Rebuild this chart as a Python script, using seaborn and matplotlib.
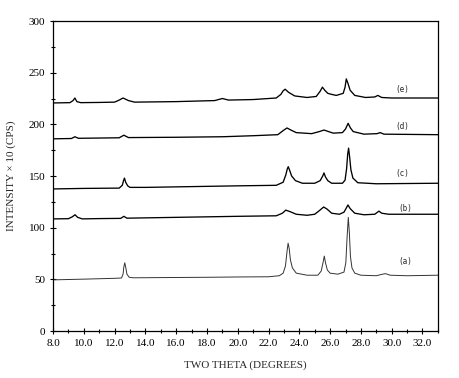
#!/usr/bin/env python3

# XRD patterns (a)-(e).

import matplotlib
matplotlib.use("Agg")
import matplotlib.pylab as plt
from matplotlib.ticker import MultipleLocator, FormatStrFormatter
import pandas
import seaborn as sns

sns.set_style("ticks")
plt.rcParams["font.family"] = ["Liberation Serif", "DejaVu Serif"]

# two theta / intensity points for each pattern
a_theta = [8.0, 10.0, 12.0, 12.45, 12.55, 12.6, 12.66, 12.72, 12.8, 12.95,
           13.2, 15.0, 18.0, 20.0, 22.0, 22.7, 22.95, 23.1, 23.2, 23.27, 23.34,
           23.42, 23.55, 23.8, 24.5, 25.2, 25.42, 25.55, 25.62, 25.7, 25.82,
           26.0, 26.5, 26.9, 27.02, 27.1, 27.18, 27.25, 27.32, 27.42, 27.6,
           28.0, 29.0, 29.4, 29.6, 29.9, 31.0, 33.0]
a_int = [49.5, 50.2, 51.0, 51.3, 55.0, 62.0, 66.0, 62.0, 55.0, 52.0,
         51.5, 51.7, 52.0, 52.3, 52.5, 53.5, 56.0, 63.0, 77.0, 85.0, 80.0,
         69.0, 61.0, 56.0, 54.0, 54.0, 58.0, 67.0, 72.5, 66.0, 59.0,
         56.0, 55.0, 57.0, 66.0, 90.0, 110.0, 95.0, 72.0, 61.0, 56.0,
         54.0, 53.5, 55.0, 55.5, 54.0, 53.5, 54.0]

b_theta = [8.0, 9.0, 9.25, 9.43, 9.6, 9.9, 11.0, 12.4, 12.6, 12.8, 14.0, 18.0,
           20.0, 22.5, 22.9, 23.12, 23.4, 23.8, 24.5, 25.0, 25.3, 25.58, 25.8,
           26.1, 26.6, 26.9, 27.05, 27.16, 27.3, 27.6, 28.2, 28.9, 29.17,
           29.35, 29.8, 33.0]
b_int = [108.5, 108.7, 110.5, 112.5, 110.0, 108.5, 108.8, 109.0, 111.0, 109.2,
         109.5, 110.5, 111.0, 111.5, 114.0, 117.0, 115.5, 113.0, 112.0, 113.0,
         116.5, 120.0, 118.0, 114.0, 113.0, 115.0, 119.0, 122.0, 118.5, 114.0,
         112.5, 113.0, 116.0, 114.0, 113.0, 113.0]

c_theta = [8.0, 10.0, 12.3, 12.5, 12.58, 12.64, 12.72, 12.85, 13.0, 14.0, 18.0,
           20.0, 22.5, 22.95, 23.12, 23.22, 23.28, 23.36, 23.5, 23.75, 24.2,
           25.0, 25.35, 25.52, 25.6, 25.7, 25.85, 26.1, 26.8, 26.97, 27.07,
           27.14, 27.2, 27.27, 27.35, 27.48, 27.8, 29.0, 33.0]
c_int = [137.5, 138.0, 138.3, 141.0, 145.5, 148.0, 144.0, 140.5, 139.0, 139.0,
         140.0, 140.5, 141.0, 144.0, 151.0, 157.0, 159.0, 156.0, 150.0, 145.5,
         143.0, 143.0, 145.5, 150.0, 153.0, 149.0, 145.5, 143.0, 143.0, 146.0,
         157.0, 171.0, 177.0, 168.0, 156.0, 148.0, 143.5, 142.5, 143.0]

d_theta = [8.0, 9.2, 9.42, 9.65, 12.3, 12.6, 12.9, 16.0, 19.0, 21.0, 22.6,
           23.0, 23.2, 23.45, 23.8, 24.8, 25.3, 25.6, 25.9, 26.2, 26.8, 27.0,
           27.17, 27.32, 27.5, 28.2, 29.05, 29.25, 29.5, 33.0]
d_int = [186.0, 186.3, 188.0, 186.5, 187.0, 189.5, 187.2, 187.5, 188.0, 189.0,
         190.0, 194.5, 196.5, 194.5, 192.0, 191.0, 193.0, 194.5, 193.0, 191.5,
         192.0, 195.5, 201.0, 196.5, 193.0, 190.5, 191.0, 192.0, 190.5, 190.0]

e_theta = [8.0, 9.1, 9.3, 9.42, 9.55, 9.8, 11.0, 12.0, 12.3, 12.55, 12.9,
           13.3, 16.0, 18.5, 19.0, 19.4, 21.0, 22.5, 22.8, 22.95, 23.08, 23.3,
           23.7, 24.5, 25.1, 25.35, 25.5, 25.65, 25.85, 26.1, 26.4, 26.85,
           26.97, 27.05, 27.15, 27.3, 27.6, 28.3, 28.9, 29.1, 29.35, 30.0, 33.0]
e_int = [220.7, 221.0, 223.0, 225.5, 222.0, 221.0, 221.2, 221.5, 223.5, 225.5,
         223.0, 221.5, 222.0, 223.0, 225.0, 223.5, 224.0, 225.5, 229.0, 232.5,
         234.0, 231.0, 227.5, 226.0, 227.0, 232.0, 236.0, 233.0, 230.0, 229.0,
         228.0, 230.0, 236.0, 244.0, 240.0, 233.0, 228.0, 226.0, 226.5, 228.0,
         226.0, 225.5, 225.5]

labels = ["(a)", "(b)", "(c)", "(d)", "(e)"]
label_theta = [30.9, 30.9, 30.7, 30.7, 30.7]
label_int = [67, 119, 152, 197.5, 234]

patterns = [(a_theta, a_int), (b_theta, b_int), (c_theta, c_int),
            (d_theta, d_int), (e_theta, e_int)]

fig = plt.figure(figsize=(4.59, 3.78), dpi=100)
ax = fig.add_axes([0.1155, 0.1243, 0.8385, 0.8201])

for i, (theta, inten) in enumerate(patterns):
    df = pandas.DataFrame({"theta": theta, "intensity": inten})
    lw = 0.7 if i == 0 else 0.95
    color = "#333333" if i == 0 else "black"
    sns.lineplot(data=df, x="theta", y="intensity", sort=False, ax=ax,
                 color=color, linewidth=lw, solid_joinstyle="round")
    ax.text(label_theta[i], label_int[i], labels[i], fontsize=5.5,
            family="DejaVu Sans Mono", ha="center", va="center")

ax.set_xlim(8.0, 33.0)
ax.set_ylim(0, 300)
ax.xaxis.set_major_locator(MultipleLocator(2.0))
ax.xaxis.set_minor_locator(MultipleLocator(1.0))
ax.xaxis.set_major_formatter(FormatStrFormatter("%.1f"))
ax.yaxis.set_major_locator(MultipleLocator(50))
ax.yaxis.set_minor_locator(MultipleLocator(25))
ax.tick_params(which="both", direction="inout", labelsize=8, width=0.8,
               colors="black")
ax.tick_params(which="major", length=4)
ax.tick_params(which="minor", length=2.5)
for s in ax.spines.values():
    s.set_linewidth(0.9)
    s.set_color("black")

ax.set_xlabel("TWO THETA (DEGREES)", fontsize=8, labelpad=9)
ax.set_ylabel("INTENSITY \u00d7 10 (CPS)", fontsize=8, labelpad=9)

plt.savefig("out.png", dpi=100)
